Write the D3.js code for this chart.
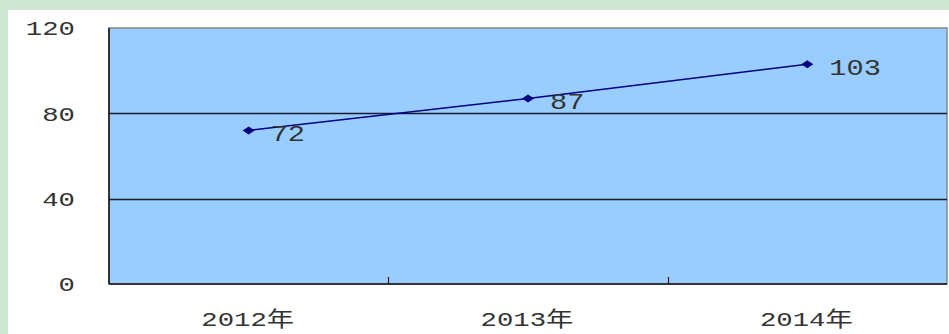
<!DOCTYPE html>
<html>
<head>
<meta charset="utf-8">
<script src="https://cdn.jsdelivr.net/npm/d3@7"></script>
<style>
  html, body { margin: 0; padding: 0; background: #fff; }
  svg { display: block; }
  text { font-family: "Liberation Mono", "Noto Sans CJK SC", monospace; fill: #333; }
</style>
</head>
<body>
<div id="chart"></div>
<script>
const categories = ["2012年", "2013年", "2014年"];
const values = [72, 87, 103];
const yTicks = [0, 40, 80, 120];

const width = 949;
const height = 334;
const plot = { left: 109, right: 947, top: 28, bottom: 284 };
const stretch = 1.3; // the original text is drawn wide

const svg = d3.select('#chart')
    .append('svg')
    .attr('width', width)
    .attr('height', height);

// green frame and white panel
svg.append('rect').attr('width', width).attr('height', height).attr('fill', '#cde6d1');
svg.append('rect').attr('x', 8).attr('y', 10).attr('width', width - 8).attr('height', height - 10).attr('fill', '#fff');

const x = d3.scaleBand()
    .domain(categories)
    .range([plot.left, plot.right])
    .padding(0);

const y = d3.scaleLinear()
    .domain([0, 120])
    .range([plot.bottom, plot.top]);

// plot area
svg.append('rect')
    .attr('x', plot.left)
    .attr('y', plot.top)
    .attr('width', plot.right - plot.left)
    .attr('height', plot.bottom - plot.top)
    .attr('fill', '#99ccff')
    .attr('stroke', '#888')
    .attr('stroke-width', 1.5);

// gridlines
svg.selectAll('.grid')
    .data(yTicks.filter(d => d > 0 && d < 120))
    .enter()
    .append('line')
    .attr('class', 'grid')
    .attr('x1', plot.left)
    .attr('x2', plot.right)
    .attr('y1', d => Math.round(y(d)) + 0.5)
    .attr('y2', d => Math.round(y(d)) + 0.5)
    .attr('stroke', '#1a1a2e')
    .attr('stroke-width', 1.4);

// axes lines
svg.append('line')
    .attr('x1', plot.left).attr('x2', plot.left)
    .attr('y1', plot.top).attr('y2', plot.bottom)
    .attr('stroke', '#111').attr('stroke-width', 1.5);
svg.append('line')
    .attr('x1', plot.left).attr('x2', plot.right)
    .attr('y1', plot.bottom).attr('y2', plot.bottom)
    .attr('stroke', '#111').attr('stroke-width', 1.5);

// category separators (ticks pointing inward)
svg.selectAll('.xtick')
    .data(categories.slice(1))
    .enter()
    .append('line')
    .attr('class', 'xtick')
    .attr('x1', d => Math.round(x(d)) + 0.5)
    .attr('x2', d => Math.round(x(d)) + 0.5)
    .attr('y1', plot.bottom - 7)
    .attr('y2', plot.bottom)
    .attr('stroke', '#111')
    .attr('stroke-width', 1.2);

// y labels
svg.selectAll('.ylab')
    .data(yTicks)
    .enter()
    .append('text')
    .attr('class', 'ylab')
    .attr('transform', d => `translate(75,${y(d)}) scale(${stretch},1)`)
    .attr('text-anchor', 'end')
    .attr('dy', '0.35em')
    .attr('font-size', '21px')
    .text(d => d);

// x labels
svg.selectAll('.xlab')
    .data(categories)
    .enter()
    .append('text')
    .attr('class', 'xlab')
    .attr('transform', d => `translate(${x(d) + x.bandwidth() / 2 - 1},326) scale(${stretch},1)`)
    .attr('text-anchor', 'middle')
    .attr('font-size', '21px')
    .text(d => d);

const cx = d => x(d) + x.bandwidth() / 2;

// line
const line = d3.line()
    .x((d, i) => cx(categories[i]))
    .y(d => y(d));

svg.append('path')
    .datum(values)
    .attr('d', line)
    .attr('fill', 'none')
    .attr('stroke', '#000080')
    .attr('stroke-width', 1.5);

// markers: wide diamonds
svg.selectAll('.pt')
    .data(values)
    .enter()
    .append('path')
    .attr('class', 'pt')
    .attr('d', 'M-6,0L0,-4L6,0L0,4Z')
    .attr('transform', (d, i) => `translate(${cx(categories[i])},${y(d)})`)
    .attr('fill', '#000080');

// data labels
svg.selectAll('.vlab')
    .data(values)
    .enter()
    .append('text')
    .attr('class', 'vlab')
    .attr('transform', (d, i) => `translate(${cx(categories[i]) + 22},${y(d) + 3}) scale(${stretch},1)`)
    .attr('dy', '0.35em')
    .attr('font-size', '22px')
    .text(d => d);
</script>
</body>
</html>
